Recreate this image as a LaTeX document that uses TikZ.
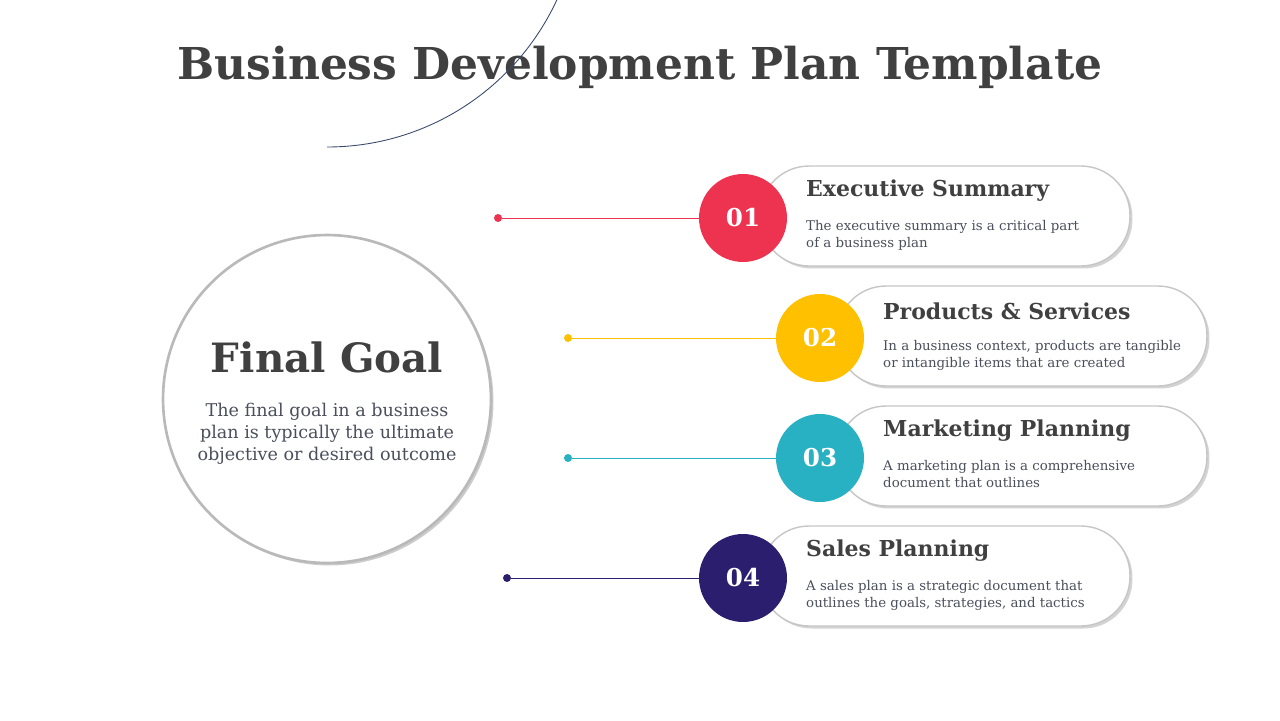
\documentclass[tikz,border=0pt]{standalone}
\usepackage{fontspec}
\setmainfont{DejaVu Serif}
\usetikzlibrary{shadows}
\definecolor{txtgray}{HTML}{404040}
\definecolor{bodygray}{HTML}{4A4F5C}
\definecolor{arcblue}{HTML}{3A4A6B}
\definecolor{cred}{HTML}{EE3350}
\definecolor{cyellow}{HTML}{FFC000}
\definecolor{cteal}{HTML}{27B1C2}
\definecolor{cnavy}{HTML}{2C1E6E}
\tikzset{
  pill/.style={draw=gray!45,line width=0.8pt,fill=white,rounded corners=0.98cm,
    minimum width=7.4cm,minimum height=2cm,drop shadow={opacity=0.35,shadow xshift=0.05cm,shadow yshift=-0.05cm}},
  numdot/.style={circle,minimum size=1.76cm,inner sep=0pt,text=white,font=\fontsize{14}{16}\selectfont\bfseries},
  dot/.style={circle,minimum size=0.16cm,inner sep=0pt},
  ptitle/.style={anchor=west,text=txtgray,font=\fontsize{12.5}{14}\selectfont\bfseries},
  pbody/.style={anchor=north west,align=left,text=bodygray,font=\fontsize{7.6}{9.6}\selectfont}
}
\begin{document}
\begin{tikzpicture}[x=0.02cm,y=-0.02cm]
\useasboundingbox (0,0) rectangle (1280,720);
% title
\node[text=txtgray,font=\fontsize{25}{30}\selectfont\bfseries] (title) at (640,67) {Business Development Plan Template};
% big arc and centre circle
\draw[arcblue,line width=0.5pt] (327,147) arc (90:-90:253);
\node[circle,draw=gray!55,line width=1.5pt,fill=white,minimum size=6.56cm,
  drop shadow={opacity=0.4,shadow xshift=0.05cm,shadow yshift=-0.05cm}] (goal) at (327,399) {};
\node[text=txtgray,font=\fontsize{23}{26}\selectfont\bfseries] (goalt) at (327,357) {Final Goal};
\node[text=bodygray,align=center,font=\fontsize{10}{12.5}\selectfont] (goalb) at (327,434)
  {The final goal in a business\\plan is typically the ultimate\\objective or desired outcome};
% pills
\foreach \n/\px/\py/\col/\dx/\hd/\bd in {
  1/945/216/cred/498/Executive Summary/{The executive summary is a critical part\\of a business plan},
  2/1022/336/cyellow/568/Products \& Services/{In a business context, products are tangible\\or intangible items that are created},
  3/1022/456/cteal/568/Marketing Planning/{A marketing plan is a comprehensive\\document that outlines},
  4/945/576/cnavy/507/Sales Planning/{A sales plan is a strategic document that\\outlines the goals, strategies, and tactics}}{
  \node[pill] (pill\n) at (\px,\py) {};
  \node[dot,fill=\col] (dot\n) at (\dx,\py+2) {};
  \node[numdot,fill=\col] (num\n) at (\px-202,\py+2) {0\n};
  \draw[\col,line width=0.5pt] (dot\n) -- (num\n);
  \node[ptitle] (ttl\n) at (\px-145,\py-25) {\hd};
  \node[pbody] (txt\n) at (\px-145,\py-2) {\bd};
}
\end{tikzpicture}
\end{document}
